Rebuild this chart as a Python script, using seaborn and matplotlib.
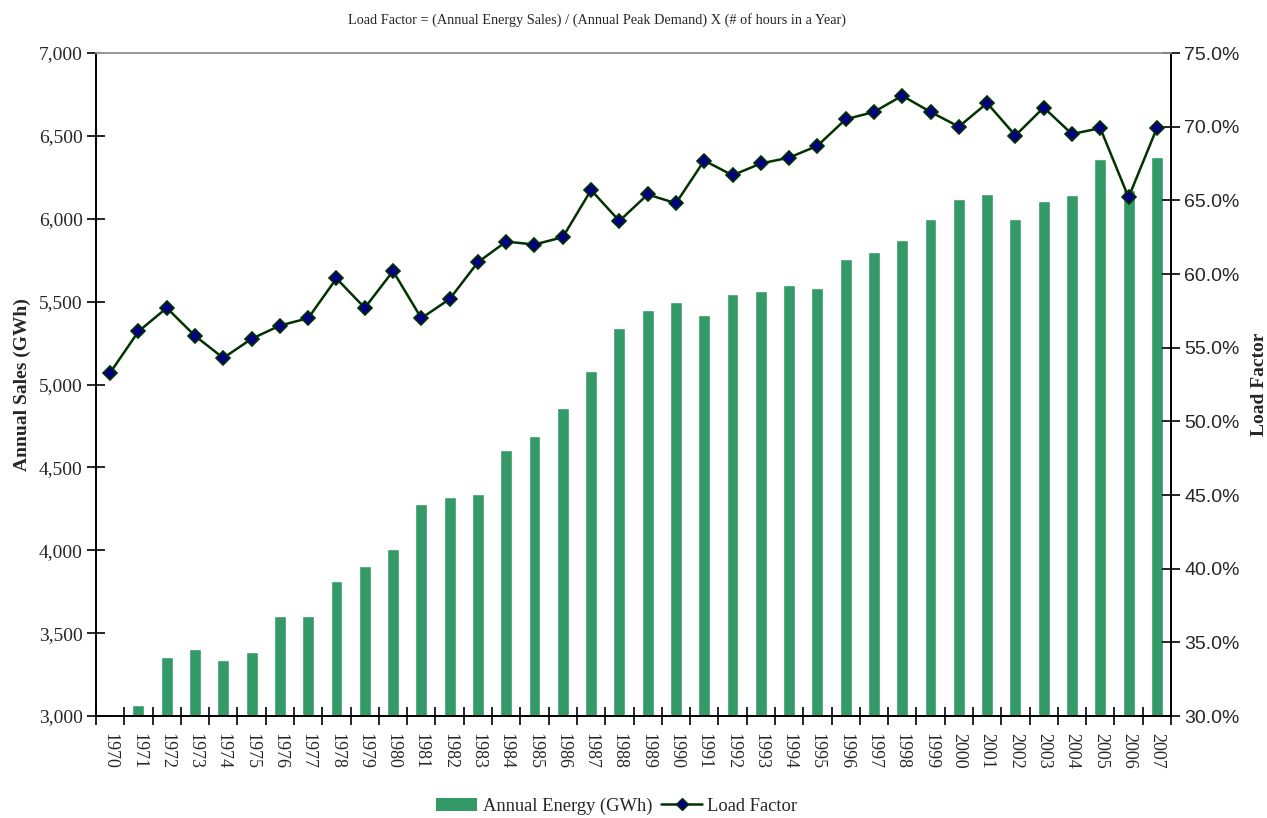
import numpy as np
import pandas as pd
import matplotlib
matplotlib.use("Agg")
import matplotlib.pyplot as plt
import seaborn as sns
from matplotlib.ticker import FuncFormatter, FixedLocator
from matplotlib.patches import Patch
from matplotlib.lines import Line2D

years = list(range(1970, 2008))
annual_energy = [3000, 3066, 3356, 3404, 3338, 3386, 3603, 3603, 3814, 3905,
                 4007, 4279, 4321, 4339, 4604, 4689, 4858, 5081, 5340, 5449,
                 5497, 5419, 5545, 5563, 5600, 5581, 5756, 5799, 5871, 5998,
                 6118, 6148, 5998, 6106, 6142, 6359, 6175, 6372]
load_factor = [53.3, 56.1, 57.7, 55.8, 54.3, 55.6, 56.5, 57.0, 59.7, 57.7,
               60.2, 57.0, 58.3, 60.8, 62.2, 62.0, 62.5, 65.7, 63.6, 65.4,
               64.8, 67.7, 66.7, 67.5, 67.9, 68.7, 70.5, 71.0, 72.1, 71.0,
               70.0, 71.6, 69.4, 71.3, 69.5, 69.9, 65.2, 69.9]

df = pd.DataFrame({"year": [str(y) for y in years],
                   "pos": np.arange(len(years)),
                   "energy": annual_energy,
                   "lf": load_factor})

sns.set_style("white")
serif = ["Liberation Serif", "DejaVu Serif"]
sans = ["Liberation Sans", "DejaVu Sans"]
plt.rcParams["font.family"] = serif

bar_color = "#339966"
line_color = "#003300"
marker_color = "#000080"

fig = plt.figure(figsize=(12.67, 8.18), dpi=100)
ax = fig.add_axes([96 / 1267, 1 - 716 / 818, (1171 - 96) / 1267, (716 - 53) / 818])

sns.barplot(data=df, x="year", y="energy", color=bar_color, width=0.42,
            saturation=1, ax=ax)
ax.set_ylim(3000, 7000)
ax.set_xlim(-0.5, len(years) - 0.5)
ax.set_yticks(np.arange(3000, 7001, 500))
ax.yaxis.set_major_formatter(FuncFormatter(lambda v, p: f"{int(v):,}"))
ax.set_xlabel("")
ax.set_ylabel("Annual Sales (GWh)", fontsize=14, fontweight="bold", labelpad=6)

# category boundaries as ticks, labels at centres
ax.xaxis.set_major_locator(FixedLocator(np.arange(-0.5, len(years), 1)))
ax.xaxis.set_minor_locator(FixedLocator(np.arange(len(years))))
ax.set_xticklabels([""] * (len(years) + 1))
ax.set_xticklabels(df["year"], minor=True, rotation=270, fontsize=13)
ax.tick_params(axis="x", which="major", direction="inout", length=13, width=1.2,
               color="black", bottom=True)
ax.tick_params(axis="x", which="minor", length=0, pad=12)
ax.tick_params(axis="y", direction="inout", length=13, width=1.2, color="black",
               labelsize=14, pad=3, left=True)

ax2 = ax.twinx()
sns.lineplot(data=df, x="pos", y="lf", color=line_color, linewidth=1.8,
             marker="D", markersize=7.5, markerfacecolor=marker_color,
             markeredgecolor=line_color, markeredgewidth=1.2, ax=ax2)
ax2.set_ylim(30, 75)
ax2.set_yticks(np.arange(30, 75.1, 5))
ax2.yaxis.set_major_formatter(FuncFormatter(lambda v, p: f"{v:.1f}%"))
ax2.set_ylabel("Load Factor", fontsize=14, fontweight="bold", labelpad=8)
ax2.tick_params(axis="y", direction="inout", length=13, width=1.2, color="black",
                pad=3, right=True)
for t in ax2.get_yticklabels():
    t.set_family(sans)
    t.set_fontsize(14)
ax2.set_xlim(-0.5, len(years) - 0.5)

for a in (ax, ax2):
    for s in ("left", "right", "bottom"):
        a.spines[s].set_color("black")
        a.spines[s].set_linewidth(1.2)
    a.spines["top"].set_color("#999999")
    a.spines["top"].set_linewidth(1.2)

fig.text(597 / 1267, 1 - 20 / 818,
         "Load Factor = (Annual Energy Sales) / (Annual Peak Demand) X (# of hours in a Year)",
         ha="center", va="center", fontsize=10.3)

handles = [Patch(facecolor=bar_color, edgecolor="none"),
           Line2D([0], [0], color=line_color, linewidth=1.8, marker="D", markersize=6,
                  markerfacecolor=marker_color, markeredgecolor=line_color)]
fig.legend(handles, ["Annual Energy (GWh)", "Load Factor"], loc="center",
           bbox_to_anchor=(617 / 1267, 1 - 806 / 818), ncol=2, frameon=False,
           fontsize=13.3, handlelength=2.2, handleheight=0.7, columnspacing=0.5,
           handletextpad=0.3)

fig.savefig("out.png", dpi=100)
